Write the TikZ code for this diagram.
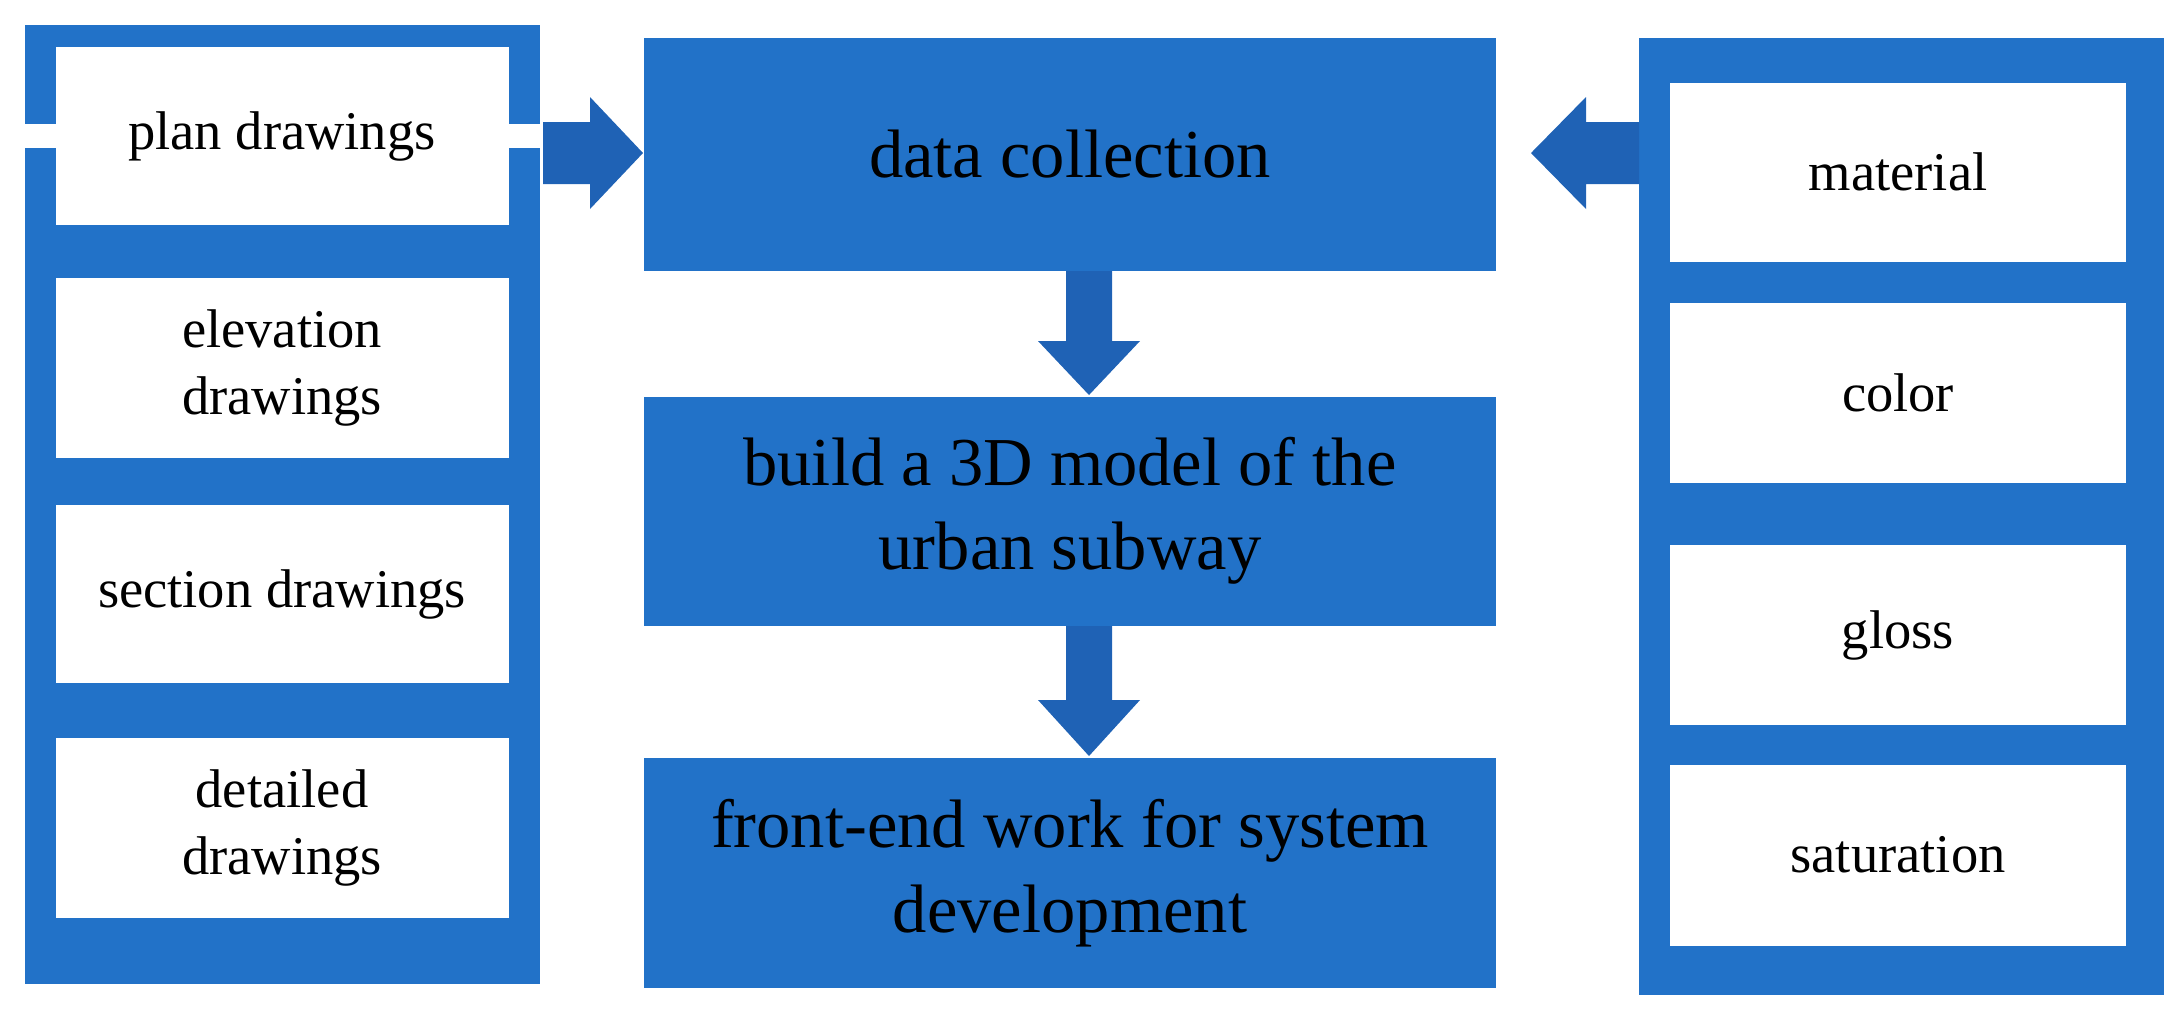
\documentclass[tikz,border=0pt]{standalone}
\usepackage{fontspec}
\setmainfont{Liberation Serif}
\begin{document}
\begin{tikzpicture}[x=0.01cm,y=-0.01cm,
  panel/.style={fill=panelblue,draw=none},
  wbox/.style={fill=white,draw=none},
  cbox/.style={fill=panelblue,draw=none},
  arr/.style={fill=arrowblue,draw=none},
  lab/.style={font=\fontsize{15.5}{19}\selectfont,align=center,text=black},
  clab/.style={font=\fontsize{19.5}{24}\selectfont,align=center,text=black}]
\definecolor{panelblue}{HTML}{2272C8}
\definecolor{arrowblue}{HTML}{1F62B5}
\useasboundingbox (0,0) rectangle (2182,1023);
% left panel
\fill[panel] (25,25) rectangle (540,984);
\node[wbox,minimum width=453\pgflinewidth] (p1) at (282.5,136) {};
\fill[wbox] (56,47) rectangle (509,225);
\fill[wbox] (56,278) rectangle (509,458);
\fill[wbox] (56,505) rectangle (509,683);
\fill[wbox] (56,738) rectangle (509,918);
\node[lab] (plan) at (282,136) {plan drawings};
\node[lab] (elev) at (282,368) {elevation\\drawings};
\node[lab] (sect) at (282,594) {section drawings};
\node[lab] (det) at (282,828) {detailed\\drawings};
% center
\fill[cbox] (644,38) rectangle (1496,271);
\fill[cbox] (644,397) rectangle (1496,626);
\fill[cbox] (644,758) rectangle (1496,988);
\node[clab] (dc) at (1070,154) {data collection};
\node[clab] (bm) at (1070,511) {build a 3D model of the\\urban subway};
\node[clab] (fe) at (1070,873) {front-end work for system\\development};
% right panel
\fill[panel] (1639,38) rectangle (2164,995);
\fill[wbox] (1670,83) rectangle (2126,262);
\fill[wbox] (1670,303) rectangle (2126,483);
\fill[wbox] (1670,545) rectangle (2126,725);
\fill[wbox] (1670,765) rectangle (2126,946);
\node[lab] (mat) at (1898,172) {material};
\node[lab] (col) at (1898,393) {color};
\node[lab] (glo) at (1898,635) {gloss};
\node[lab] (sat) at (1898,855) {saturation};
% arrows
\fill[arr] (543,122) -- (590,122) -- (590,97) -- (643,153) -- (590,209) -- (590,184) -- (543,184) -- cycle;
\fill[arr] (1639,122) -- (1586,122) -- (1586,97) -- (1531,153) -- (1586,209) -- (1586,184) -- (1639,184) -- cycle;
\fill[arr] (1066,271) -- (1112,271) -- (1112,341) -- (1140,341) -- (1089,395) -- (1038,341) -- (1066,341) -- cycle;
\fill[arr] (1066,626) -- (1112,626) -- (1112,700) -- (1140,700) -- (1089,756) -- (1038,700) -- (1066,700) -- cycle;
\end{tikzpicture}
\end{document}
